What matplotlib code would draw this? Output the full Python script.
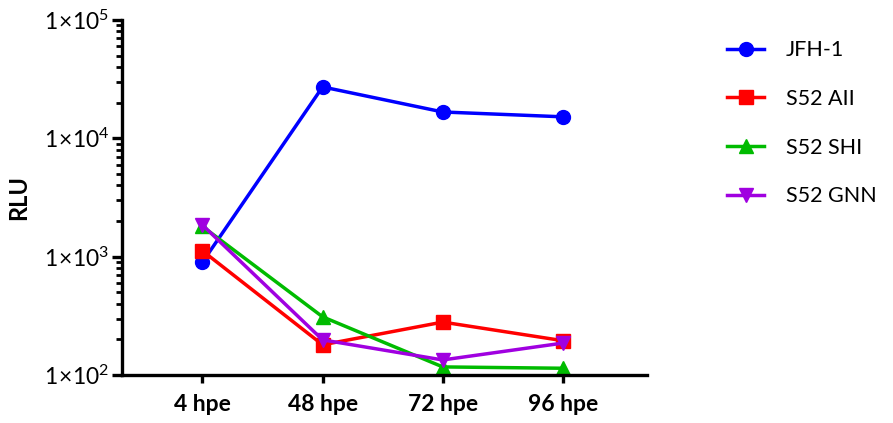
import matplotlib
matplotlib.use("Agg")
import matplotlib.pyplot as plt
from matplotlib.ticker import FixedLocator, LogLocator, NullFormatter

plt.rcParams["font.family"] = ["Lato", "DejaVu Sans"]
plt.rcParams["mathtext.fontset"] = "custom"
plt.rcParams["mathtext.rm"] = "Lato"

timepoints = ["4 hpe", "48 hpe", "72 hpe", "96 hpe"]

jfh1 = [900, 27200, 16700, 15200]
s52_aii = [1120, 180, 280, 195]
s52_shi = [1800, 310, 117, 114]
s52_gnn = [1850, 198, 134, 186]

series = [
    ("JFH-1", jfh1, "#0000ff", "o"),
    ("S52 AII", s52_aii, "#ff0000", "s"),
    ("S52 SHI", s52_shi, "#00bb00", "^"),
    ("S52 GNN", s52_gnn, "#a000e0", "v"),
]

fig = plt.figure(figsize=(8.93, 4.23), dpi=100)
ax = fig.add_axes([0.1366, 0.1135, 0.5879, 0.8392])

x = list(range(len(timepoints)))
for name, vals, col, mk in series:
    ax.plot(x, vals, color=col, marker=mk, markersize=10, linewidth=2.5,
            label=name, clip_on=False)

ax.set_yscale("log")
ax.set_ylim(1e2, 1e5)
ax.set_xlim(-0.67, 3.70)

ax.set_xticks(x)
ax.set_xticklabels(timepoints, fontsize=16.5, fontweight="bold")

majors = [1e2, 1e3, 1e4, 1e5]
ax.yaxis.set_major_locator(FixedLocator(majors))
ax.set_yticklabels([r"$\mathregular{1\!\times\!10^{%d}}$" % i for i in range(2, 6)],
                   fontsize=16.5)
ax.yaxis.set_minor_locator(LogLocator(base=10, subs=range(2, 10)))
ax.yaxis.set_minor_formatter(NullFormatter())

ax.set_ylabel("RLU", fontsize=17, fontweight="bold", labelpad=10)

for s in ["top", "right"]:
    ax.spines[s].set_visible(False)
for s in ["left", "bottom"]:
    ax.spines[s].set_linewidth(2.4)

ax.tick_params(axis="y", which="major", length=7, width=2.4, pad=2)
ax.tick_params(axis="y", which="minor", length=4, width=2.0)
ax.tick_params(axis="x", which="major", length=6, width=2.4, pad=8)

ax.legend(loc="upper left", bbox_to_anchor=(0.805, 0.925), bbox_transform=fig.transFigure,
          frameon=False, fontsize=15.5, handlelength=1.7, labelspacing=1.33,
          handletextpad=1.0, borderaxespad=0)

fig.savefig("out.png", dpi=100)
